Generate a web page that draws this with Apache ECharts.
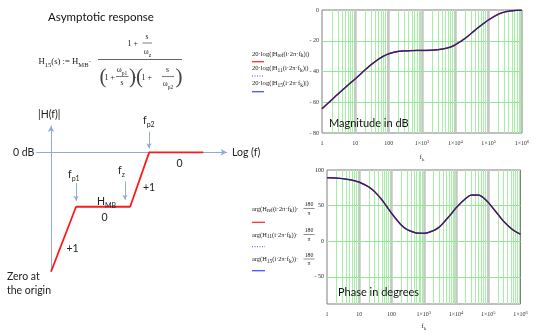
<!DOCTYPE html>
<html><head><meta charset="utf-8">
<script src="https://cdn.jsdelivr.net/npm/echarts@6/dist/echarts.min.js"></script>
<style>html,body{margin:0;padding:0;background:#fff}#c{width:540px;height:334px}</style>
</head><body><div id="c"></div><script>
// ---- data ----
const freqs = [1,2,3,5,7,10,20,30,50,70,100,200,300,500,700,1e3,2e3,3e3,5e3,7e3,1e4,2e4,3e4,5e4,7e4,1e5,2e5,3e5,5e5,7e5,1e6];
const magDb = [-64.2,-58.2,-54.7,-50.4,-47.6,-44.8,-38.8,-35.5,-31.9,-30.0,-28.5,-26.9,-26.6,-26.4,-26.3,-26.3,-26.1,-25.8,-25.0,-24.2,-22.6,-18.3,-15.2,-11.2,-8.8,-6.4,-2.6,-1.3,-0.5,-0.2,-0.1];
const phaseDeg = [89.3,88.6,87.9,86.4,85.0,82.9,76.1,69.6,58.4,49.2,39.4,22.8,16.6,12.6,11.3,11.2,15.0,19.8,30.5,38.0,46.8,60.0,64.8,64.8,61.2,54.5,37.8,28.0,18.4,13.6,10.0];
// asymptotic sketch (x in decades from origin, y in dB)
const asymX = [0, 1.25, 3.95, 4.9, 7.6];
const asymDb = [-43.9, -20, -20, 0, 0];
// sketch marker arrows: x, yStart, yEnd
const arrowX = [1.25, 3.69, 4.89];
const arrowY0 = [-11.3, -10.7, 7.6];
const arrowY1 = [-17.8, -17.4, 1.5];
// ticks / grid
const decades = [1,10,100,1e3,1e4,1e5];
const minorMant = [2,3,4,5,6,7,8,9];
const magTicks = [0,-20,-40,-60,-80];
const phaseTicks = [-50,0,50,100];

const SERIF = 'Liberation Serif';
const SANS = 'Lato';
const GREEN = '#a6f0a6';
const HGREEN = '#92e892';
const GRAY = '#c6c6c6';
const SKY = '#8faadc';

function vLines() {
  const out = [];
  decades.forEach(d => {
    minorMant.forEach(m => out.push({xAxis: d*m, lineStyle:{color:GREEN, width:1, type:'solid'}}));
    if (d > 1) out.push({xAxis: d, lineStyle:{color:GRAY, width:2.5, type:'solid'}});
  });
  return out;
}
function hLines(ticks) {
  return ticks.map(v => ({yAxis: v, lineStyle:{color:HGREEN, width:1, type:'solid'}}));
}
const pairs = arr => freqs.map((f,i)=>[f, arr[i]]);
const xLabelRich = {sup:{fontSize:4.5, fontFamily:SERIF, verticalAlign:'top', color:'#333'}};
function logFmt(v){
  const e = Math.round(Math.log10(v));
  if (e < 3) return String(Math.round(v));
  return '1×10{sup|' + e + '}';
}
function yFmt(v){ return v < 0 ? '- ' + Math.abs(v) : String(v); }
function mkX(gi, gap){
  return {type:'log', logBase:10, gridIndex:gi, min:1, max:1e6,
    axisLine:{show:false}, axisTick:{show:false}, splitLine:{show:false},
    axisLabel:{formatter:logFmt, fontSize:6, fontFamily:SERIF, color:'#333', margin:6, lineHeight:9, rich:xLabelRich},
    name:'f{sub|k}', nameLocation:'middle', nameGap:gap,
    nameTextStyle:{fontSize:7, fontFamily:SERIF, color:'#333', lineHeight:10,
      rich:{sub:{fontSize:5, fontFamily:SERIF, verticalAlign:'bottom', color:'#333'}}}};
}
const lineSeries = (xi, arr) => [
  {type:'line', xAxisIndex:xi, yAxisIndex:xi, data:pairs(arr), symbol:'none', smooth:0.35, z:5, lineStyle:{color:'#e03030', width:1.5}, silent:true},
  {type:'line', xAxisIndex:xi, yAxisIndex:xi, data:pairs(arr), symbol:'none', smooth:0.35, z:6, lineStyle:{color:'#4a3adf', width:1, type:'dotted'}, silent:true},
  {type:'line', xAxisIndex:xi, yAxisIndex:xi, data:pairs(arr), symbol:'none', smooth:0.35, z:7, lineStyle:{color:'#22227f', width:1.25}, silent:true}
];
const gridSeries = (xi, ticks) => ({
  type:'line', xAxisIndex:xi, yAxisIndex:xi, data:[], silent:true, z:2,
  markLine:{silent:true, symbol:'none', animation:false, label:{show:false}, emphasis:{disabled:true}, data: vLines().concat(hLines(ticks))}
});
const baseRich = {
  sub:{fontSize:5.5, fontFamily:SERIF, verticalAlign:'bottom', fill:'#222'},
  msub:{fontSize:6.5, fontFamily:SERIF, verticalAlign:'bottom', fill:'#222'},
  ssub:{fontSize:7, fontFamily:SANS, verticalAlign:'bottom', fill:'#222'}
};
function T(x, y, text, size, fam, align, extra){
  return Object.assign({type:'text', x:x, y:y, silent:true, z:20,
    style:Object.assign({text:text, fontSize:size, fontFamily:fam||SERIF, fill:'#222',
      align:align||'left', verticalAlign:'middle', lineHeight:size*1.5, rich:baseRich}, extra||{})});
}
function L(x1,y1,x2,y2,color,w,dash){
  return {type:'line', silent:true, z:20, shape:{x1:x1,y1:y1,x2:x2,y2:y2}, style:{stroke:color||'#222', lineWidth:w||0.7, lineDash:dash||null}};
}
const g = [];
g.push(T(48, 17.5, 'Asymptotic response', 11.5, SANS, 'left', {fill:'#111'}));
g.push(T(38.5, 62, 'H{msub|15}(s) := H{msub|MB}·', 8.7));
g.push(L(98, 59.5, 182, 59.5));
g.push(T(127.5, 43.5, '1 +', 8));
g.push(T(147, 37.5, 's', 7.5, SERIF, 'center'));
g.push(L(142.5, 43, 152, 43, '#222', 0.6));
g.push(T(147.5, 52.5, 'ω{sub|z}', 7.5, SERIF, 'center'));
g.push(T(99.5, 77, '(', 21, SERIF, 'left', {fill:'#444'}));
g.push(T(104.5, 77.5, '1 +', 8));
g.push(T(122, 70.5, 'ω{sub|p1}', 7.5, SERIF, 'center'));
g.push(L(116, 76.5, 128.5, 76.5, '#222', 0.6));
g.push(T(122, 83.5, 's', 7.5, SERIF, 'center'));
g.push(T(129, 77, ')', 21, SERIF, 'left', {fill:'#444'}));
g.push(T(134, 77.5, '·', 8));
g.push(T(136, 77, '(', 21, SERIF, 'left', {fill:'#444'}));
g.push(T(141.5, 77.5, '1 +', 8));
g.push(T(167.5, 70.5, 's', 7.5, SERIF, 'center'));
g.push(L(162, 76.5, 174, 76.5, '#222', 0.6));
g.push(T(168, 84.5, 'ω{sub|p2}', 7.5, SERIF, 'center'));
g.push(T(175.5, 77, ')', 21, SERIF, 'left', {fill:'#444'}));
g.push(T(38, 115, '|H(f)|', 10.5, SANS));
g.push(T(13, 152.5, '0 dB', 10.5, SANS));
g.push(T(232, 153, 'Log (f)', 10.5, SANS));
g.push(T(68, 175, 'f{ssub|p1}', 10.5, SANS, 'left', {lineHeight:14}));
g.push(T(118, 171, 'f{ssub|z}', 10.5, SANS, 'left', {lineHeight:14}));
g.push(T(143, 121, 'f{ssub|p2}', 10.5, SANS, 'left', {lineHeight:14}));
g.push(T(97, 202, 'H{ssub|MB}', 10.5, SANS, 'left', {lineHeight:14}));
g.push(T(104.5, 217.5, '0', 10.5, SANS, 'center'));
g.push(T(72.5, 248.5, '+1', 10.5, SANS, 'center'));
g.push(T(149, 187.5, '+1', 10.5, SANS, 'center'));
g.push(T(179.5, 163.5, '0', 10.5, SANS, 'center'));
g.push(T(7, 277, 'Zero at', 10.5, SANS));
g.push(T(7, 290.5, 'the origin', 10.5, SANS));
g.push(T(329, 123.5, 'Magnitude in dB', 11, SANS, 'left', {fill:'#111'}));
g.push(T(338, 292.5, 'Phase in degrees', 11, SANS, 'left', {fill:'#111'}));
const magLeg = ['20·log(|H{sub|ref}(i·2π·f{sub|k})|)', '20·log(|H{sub|11}(i·2π·f{sub|k})|)', '20·log(|H{sub|15}(i·2π·f{sub|k})|)'];
const magLegY = [54, 68.5, 83.5];
const magSampY = [61.7, 76, 91.7];
magLeg.forEach((s,i)=>g.push(T(252, magLegY[i], s, 6.6)));
g.push(L(252, magSampY[0], 264, magSampY[0], '#ff3030', 1.3));
g.push(L(252, magSampY[1], 264, magSampY[1], '#4040ff', 1, [1,1.5]));
g.push(L(252, magSampY[2], 264, magSampY[2], '#5050ff', 1.3));
const phLeg = ['arg(H{sub|ref}(i·2π·f{sub|k}))·', 'arg(H{sub|11}(i·2π·f{sub|k}))·', 'arg(H{sub|15}(i·2π·f{sub|k}))·'];
const phLegY = [209, 235, 259.5];
const phSampY = [222.3, 246.7, 270.7];
phLeg.forEach((s,i)=>{
  g.push(T(252, phLegY[i], s, 6.4));
  g.push(T(309, phLegY[i]-4.5, '180', 5.8, SERIF, 'center'));
  g.push(L(303.5, phLegY[i]-0.5, 314.5, phLegY[i]-0.5, '#222', 0.5));
  g.push(T(309, phLegY[i]+4, 'π', 5.8, SERIF, 'center'));
});
g.push(L(252, phSampY[0], 265, phSampY[0], '#ff3030', 1.3));
g.push(L(252, phSampY[1], 265, phSampY[1], '#4040ff', 1, [1,1.5]));
g.push(L(252, phSampY[2], 265, phSampY[2], '#5050ff', 1.3));

const option = {
  animation:false, backgroundColor:'#ffffff',
  grid:[
    {left:322, top:10, width:200, height:123, show:true, borderColor:'#7f7f7f', borderWidth:1, backgroundColor:'#fff'},
    {left:327, top:170, width:193.5, height:134, show:true, borderColor:'#7f7f7f', borderWidth:1, backgroundColor:'#fff'},
    {left:36.7, top:126, width:190, height:145.7, show:false}
  ],
  xAxis:[ mkX(0, 19), mkX(1, 17),
    {type:'value', gridIndex:2, min:-0.715, max:8.77,
     axisLine:{show:true, onZero:true, symbol:['none','arrow'], symbolSize:[5,6], lineStyle:{color:SKY, width:1}},
     axisTick:{show:false}, axisLabel:{show:false}, splitLine:{show:false}}
  ],
  yAxis:[
    {type:'value', gridIndex:0, min:-80, max:0, interval:20, axisLine:{show:false}, axisTick:{show:false}, splitLine:{show:false},
     axisLabel:{formatter:yFmt, fontSize:6, fontFamily:SERIF, color:'#333', margin:3}},
    {type:'value', gridIndex:1, min:-88, max:100, z:30, axisLine:{show:false}, axisTick:{show:false, customValues:phaseTicks}, splitLine:{show:false},
     axisLabel:{formatter:yFmt, fontSize:6, fontFamily:SERIF, color:'#222', margin:3, customValues:phaseTicks}},
    {type:'value', gridIndex:2, min:-43.9, max:9.7,
     axisLine:{show:true, onZero:true, symbol:['none','arrow'], symbolSize:[5,6], lineStyle:{color:SKY, width:1}},
     axisTick:{show:false}, axisLabel:{show:false}, splitLine:{show:false}}
  ],
  series:[
    gridSeries(0, magTicks.filter(v=>v!==0 && v!==-80)),
    gridSeries(1, phaseTicks.filter(v=>v!==100)),
    ...lineSeries(0, magDb),
    ...lineSeries(1, phaseDeg),
    {type:'line', xAxisIndex:2, yAxisIndex:2, data:asymX.map((x,i)=>[x, asymDb[i]]), symbol:'none', z:6, lineStyle:{color:'#ff1a1a', width:1.8}, silent:true,
     markLine:{silent:true, symbol:['none','arrow'], symbolSize:[4,5], animation:false, label:{show:false}, emphasis:{disabled:true}, lineStyle:{color:SKY, width:1, type:'solid'},
       data: arrowX.map((x,i)=>[{coord:[x, arrowY0[i]]},{coord:[x, arrowY1[i]]}])}}
  ],
  graphic:g
};
const chart = echarts.init(document.getElementById('c'), null, {renderer:'canvas'});
chart.setOption(option);
</script></body></html>
